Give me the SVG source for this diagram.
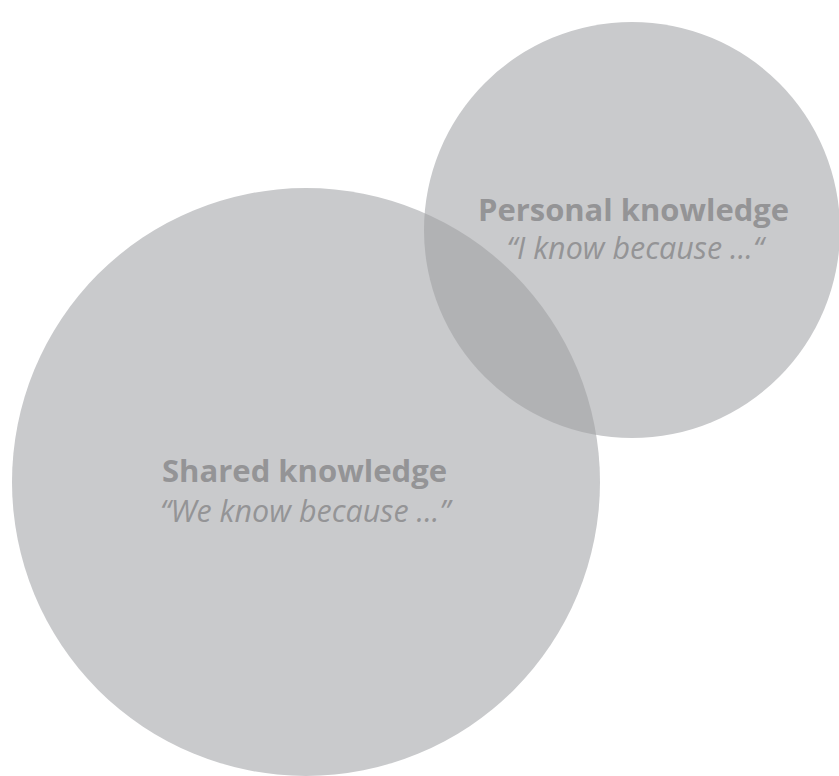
<svg xmlns="http://www.w3.org/2000/svg" width="839" height="776" viewBox="0 0 839 776">
<style>
.c{fill:#c9cacc}
.ov{fill:#b1b2b4}
.t{font-family:"Open Sans","Noto Sans","Liberation Sans",sans-serif;fill:#949496;text-anchor:middle}
.b{font-weight:bold;font-size:31px}
.i{font-style:italic;font-size:31px}
</style>
<defs>
<clipPath id="bigClip"><circle cx="306" cy="482" r="294"/></clipPath>
</defs>
<rect width="839" height="776" fill="#ffffff"/>
<g id="shared">
<circle class="c" cx="306" cy="482" r="294"/>
</g>
<g id="personal">
<circle class="c" cx="632" cy="230" r="208"/>
</g>
<g id="overlap">
<circle class="ov" cx="632" cy="230" r="208" clip-path="url(#bigClip)"/>
</g>
<g id="labels">
<text class="t b" x="633.5" y="221" textLength="311" lengthAdjust="spacingAndGlyphs">Personal knowledge</text>
<text class="t i" x="635" y="259" textLength="257" lengthAdjust="spacingAndGlyphs">“I know because ...“</text>
<text class="t b" x="304.5" y="482" textLength="285" lengthAdjust="spacingAndGlyphs">Shared knowledge</text>
<text class="t i" x="305" y="522" textLength="290" lengthAdjust="spacingAndGlyphs">“We know because ...”</text>
</g>
<g id="connectors"></g>
</svg>
